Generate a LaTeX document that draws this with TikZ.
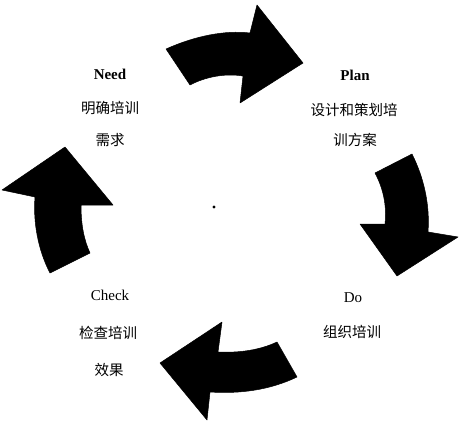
\documentclass[tikz,border=0pt]{standalone}
\usepackage{fontspec}
\setmainfont{Liberation Serif}
\newfontfamily\cjk{Noto Sans CJK SC}
\begin{document}
\begin{tikzpicture}[x=1pt,y=-1pt,
  arrowshape/.style={fill=black,draw=black,line width=0.5pt,line join=round},
  latin/.style={font=\fontsize{15}{16}\selectfont,inner sep=0pt},
  latinb/.style={font=\fontsize{15}{16}\selectfont\bfseries,inner sep=0pt},
  hanzi/.style={font=\cjk\fontsize{14.5}{15}\selectfont,inner sep=0pt}]
\useasboundingbox[fill=white] (0,0) rectangle (460,425);
% top arrow (Need -> Plan)
\fill[arrowshape] (166,49) .. controls (195,36) and (225,30) .. (250,33) -- (257,5) -- (303,63) -- (240,103) -- (243,76) .. controls (225,73) and (205,77) .. (190,85) -- cycle;
% right arrow (Plan -> Do)
\fill[arrowshape] (412,154) .. controls (424,178) and (430,205) .. (428,232) -- (458,237) -- (397,276) -- (360,224) -- (385,224) .. controls (387,205) and (383,188) .. (375,173) -- cycle;
% bottom arrow (Do -> Check)
\fill[arrowshape] (297,377) .. controls (270,390) and (240,394) .. (210,392) -- (207,420) -- (160,363) -- (222,322) -- (218,352) .. controls (240,353) and (260,350) .. (277,342) -- cycle;
% left arrow (Check -> Need)
\fill[arrowshape] (50,273) .. controls (38,250) and (33,222) .. (35,197) -- (2,190) -- (65,147) -- (113,205) -- (81,205) .. controls (81,225) and (84,240) .. (90,253) -- cycle;
% centre dot
\fill (214,207) circle (1.6);
% texts
\node[latinb] (need) at (110,74) {Need};
\node[hanzi] (needa) at (110,108) {明确培训};
\node[hanzi] (needb) at (110,140) {需求};
\node[latinb] (plan) at (355,75) {Plan};
\node[hanzi] (plana) at (354,110) {设计和策划培};
\node[hanzi] (planb) at (355,140) {训方案};
\node[latin] (do) at (353,298) {Do};
\node[hanzi] (doa) at (352,332) {组织培训};
\node[latin] (check) at (110,295) {Check};
\node[hanzi] (checka) at (108,333) {检查培训};
\node[hanzi] (checkb) at (109,370) {效果};
\end{tikzpicture}
\end{document}
